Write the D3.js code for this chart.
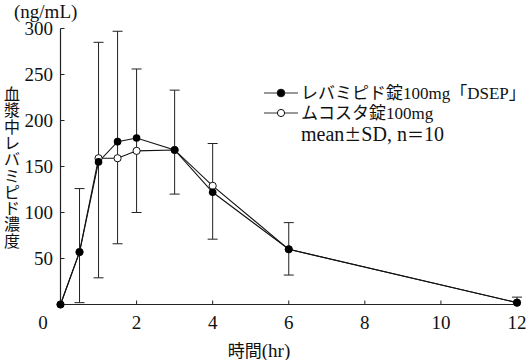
<!DOCTYPE html>
<html><head><meta charset="utf-8">
<script src="https://cdn.jsdelivr.net/npm/d3@7"></script>
<style>
html,body{margin:0;padding:0;background:#fff;}
svg{display:block;}
text{font-family:"Liberation Serif","Noto Sans CJK JP",serif;fill:#111;}
</style></head><body>
<script>
// ---- data ----
const times = [0, 0.5, 1, 1.5, 2, 3, 4, 6, 12];
const dsepValues = [0, 57, 155, 177, 181, 168, 122, 60, 2];
const mucostaValues = [0, 57, 159, 159, 167, 168, 129, 60, 2];
const errTop = [null, 126, 285, 297, 256, 233, 175, 89, 8];
const errBottom = [null, 2, 29, 66, 100, 120, 71, 32, null];
const xTicks = [2, 4, 6, 8, 10, 12];
const yTicks = [50, 100, 150, 200, 250, 300];
const seriesNames = ["レバミピド錠100mg「DSEP」", "ムコスタ錠100mg"];
const noteParts = ["mean", "±", "SD, n", "＝", "10"];
const yTitle = "血漿中レバミピド濃度";
const yUnit = "(ng/mL)";
const xTitle = "時間(hr)";

const W = 527, H = 360;
const svg = d3.select("body").append("svg").attr("width", W).attr("height", H);

const x = d3.scaleLinear().domain([0, 12]).range([60.5, 517]);
const y = d3.scaleLinear().domain([0, 300]).range([304.5, 28.5]);

// axes
const ax = "#222";
svg.append("line").attr("x1", x(0)).attr("x2", x(12)).attr("y1", y(0)).attr("y2", y(0)).attr("stroke", ax).attr("stroke-width", 1.2);
svg.append("line").attr("x1", x(0)).attr("x2", x(0)).attr("y1", y(0)).attr("y2", y(300)).attr("stroke", ax).attr("stroke-width", 1.2);

svg.selectAll(".xt").data(xTicks).enter().append("line")
  .attr("x1", d => x(d)).attr("x2", d => x(d)).attr("y1", y(0)).attr("y2", y(0) - 4)
  .attr("stroke", ax);
svg.selectAll(".xl").data(xTicks).enter().append("text")
  .attr("x", d => x(d)).attr("y", 329).attr("text-anchor", "middle")
  .attr("font-size", 19).text(d => d);
svg.append("text").attr("x", 43).attr("y", 329).attr("text-anchor", "middle").attr("font-size", 19).text("0");

svg.selectAll(".yt").data(yTicks).enter().append("line")
  .attr("x1", x(0)).attr("x2", x(0) + 4).attr("y1", d => y(d)).attr("y2", d => y(d))
  .attr("stroke", ax);
svg.selectAll(".yl").data(yTicks).enter().append("text")
  .attr("x", 53).attr("y", d => y(d) + 6).attr("text-anchor", "end")
  .attr("font-size", 19).text(d => d);

// titles
svg.append("text").attr("x", 14).attr("y", 18).attr("font-size", 19).text(yUnit);
const xt = svg.append("text").attr("x", 259).attr("y", 357).attr("text-anchor", "middle").attr("font-size", 17);
xt.append("tspan").text(xTitle.slice(0, 2));
xt.append("tspan").attr("font-size", 19).text(xTitle.slice(2));
svg.selectAll(".yc").data(Array.from(yTitle)).enter().append("text")
  .attr("x", 12).attr("y", (d, i) => 100 + i * 16.3).attr("text-anchor", "middle")
  .attr("font-size", 16).text(d => d);

// error bars
const eb = times.map((t, i) => ({t, top: errTop[i], bot: errBottom[i], v: dsepValues[i]})).filter(d => d.top !== null);
const cap = 5;
eb.forEach(d => {
  const lo = d.bot === null ? d.v : d.bot;
  svg.append("line").attr("x1", x(d.t)).attr("x2", x(d.t)).attr("y1", y(d.top)).attr("y2", y(lo)).attr("stroke", "#222");
  svg.append("line").attr("x1", x(d.t) - cap).attr("x2", x(d.t) + cap).attr("y1", y(d.top)).attr("y2", y(d.top)).attr("stroke", "#222");
  if (d.bot !== null)
    svg.append("line").attr("x1", x(d.t) - cap).attr("x2", x(d.t) + cap).attr("y1", y(d.bot)).attr("y2", y(d.bot)).attr("stroke", "#222");
});

// lines
const line = d3.line().x(d => x(d[0])).y(d => y(d[1]));
const openPts = times.map((t, i) => [t, mucostaValues[i]]);
const filledPts = times.map((t, i) => [t, dsepValues[i]]);
svg.append("path").attr("d", line(openPts)).attr("fill", "none").attr("stroke", "#111").attr("stroke-width", 1.1);
svg.append("path").attr("d", line(filledPts)).attr("fill", "none").attr("stroke", "#111").attr("stroke-width", 1.1);

svg.selectAll(".op").data(openPts).enter().append("circle")
  .attr("cx", d => x(d[0])).attr("cy", d => y(d[1])).attr("r", 3.6)
  .attr("fill", "#fff").attr("stroke", "#111").attr("stroke-width", 1);
svg.selectAll(".fp").data(filledPts).enter().append("circle")
  .attr("cx", d => x(d[0])).attr("cy", d => y(d[1])).attr("r", 3.8)
  .attr("fill", "#000");

// legend
const legY = [93, 113];
seriesNames.forEach((name, i) => {
  svg.append("line").attr("x1", 264).attr("x2", 298).attr("y1", legY[i]).attr("y2", legY[i]).attr("stroke", "#333");
  svg.append("circle").attr("cx", 281).attr("cy", legY[i]).attr("r", i === 0 ? 3.8 : 3.6)
    .attr("fill", i === 0 ? "#000" : "#fff").attr("stroke", "#111");
  svg.append("text").attr("x", 301).attr("y", legY[i] + 6).attr("font-size", 17).text(name);
});
const note = svg.append("text").attr("x", 301).attr("y", 141).attr("font-size", 20);
noteParts.forEach((p, i) => {
  const ts = note.append("tspan").text(p);
  if (i === 1 || i === 3) ts.attr("font-family", "Noto Sans CJK JP").attr("font-size", 17);
});
</script>
</body></html>
